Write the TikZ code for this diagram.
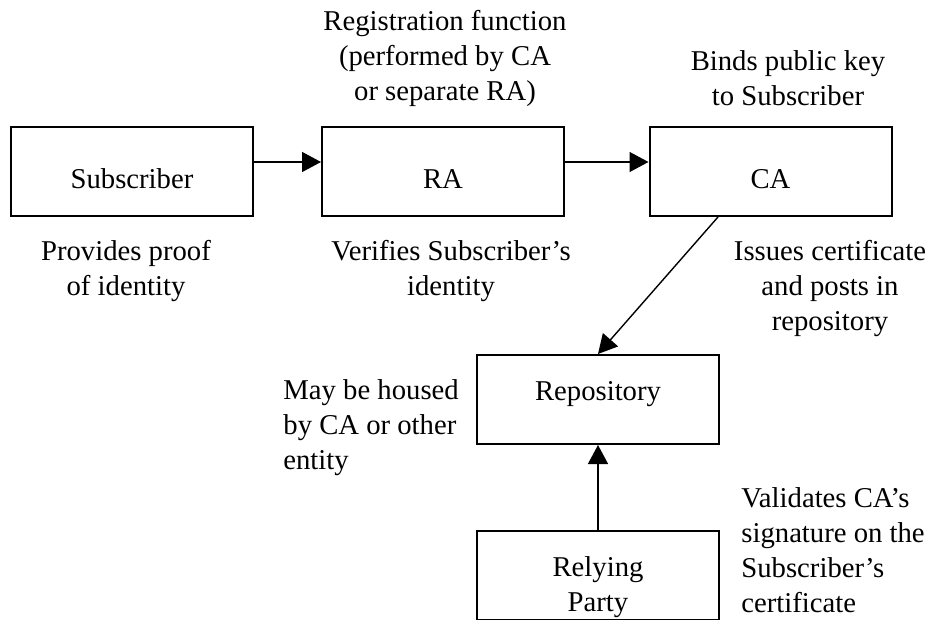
\documentclass[tikz,border=0pt]{standalone}
\usepackage{fontspec}
\setmainfont{Liberation Serif}
\usetikzlibrary{arrows.meta}

\begin{document}
\begin{tikzpicture}[x=0.5pt,y=-0.5pt,
        every node/.style={font=\fontsize{14.35}{17.5}\selectfont,inner sep=0pt},
        entity/.style={draw,line width=1pt,minimum width=\boxW,minimum height=\boxH},
        note/.style={align=center},
        flow/.style={line width=0.7pt,-{Triangle[length=9.5pt,width=10pt]}}]
        \def\boxW{121pt}
        \def\boxH{44.5pt}
        \def\topY{171.5}
        \useasboundingbox (0,0) rectangle (927,620);

        % boxes
        \foreach \x\name\txt in {132/subscriber/Subscriber,443/ra/RA,770.5/ca/CA} {
                \node [entity,text height=17pt,text depth=0pt] (\name) at (\x,\topY) {\txt};
            }
        \node [entity,text height=10pt,text depth=9pt] (repository) at (598,399.5) {Repository};
        \node [entity,align=center] (relying) at (598,575) {\rule{0pt}{21.6pt}Relying\\Party};

        % arrows
        \draw [flow] ([yshift=4.75pt]subscriber.east) -- ([yshift=4.75pt]ra.west);
        \draw [flow] ([yshift=4.75pt]ra.east) -- ([yshift=4.75pt]ca.west);
        \draw [flow] ([xshift=-26.25pt]ca.south) -- (repository.north);
        \draw [flow] (relying) -- (repository);

        % notes
        \node [note] (regnote) at (445,58.9) {Registration function\\(performed by CA\\or separate RA)};
        \node [note] (bindnote) at (788,78.3) {Binds public key\\to Subscriber};
        \node [note] (proofnote) at (126,270.9) {Provides proof\\of identity};
        \node [note] (verifynote) at (451,270.9) {Verifies Subscriber’s\\identity};
        \node [note] (issuenote) at (830,288.4) {Issues certificate\\and posts in\\repository};
        \node [note,align=left,anchor=west] (housenote) at (283,427.9) {May be housed\\by CA or other\\entity};
        \node [note,align=left,anchor=west] (validnote) at (741,550.3) {Validates CA’s\\signature on the\\Subscriber’s\\certificate};
    \end{tikzpicture}
\end{document}
